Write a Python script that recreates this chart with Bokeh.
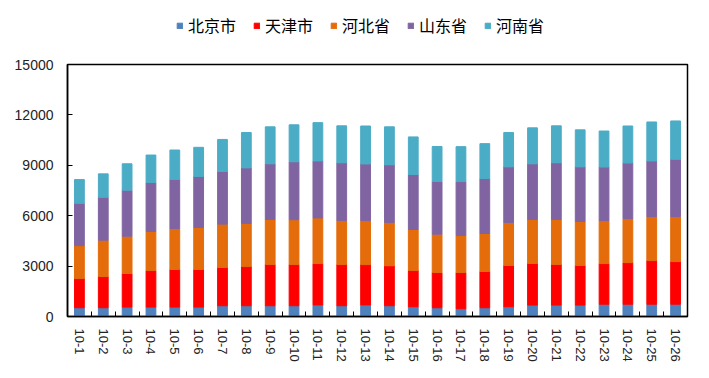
from bokeh.plotting import figure
from bokeh.layouts import column
from bokeh.models import ColumnDataSource, FixedTicker, Range1d, Legend, LegendItem
from bokeh.embed import file_html
from bokeh.resources import INLINE

dates = ["10-1", "10-2", "10-3", "10-4", "10-5", "10-6", "10-7", "10-8", "10-9",
         "10-10", "10-11", "10-12", "10-13", "10-14", "10-15", "10-16", "10-17",
         "10-18", "10-19", "10-20", "10-21", "10-22", "10-23", "10-24", "10-25", "10-26"]
provinces = ["北京市", "天津市", "河北省", "山东省", "河南省"]
beijing = [520, 520, 560, 560, 560, 560, 640, 640, 640, 640, 690, 640, 690,
           640, 580, 520, 460, 520, 580, 680, 680, 680, 730, 730, 730, 730]
tianjin = [1740, 1860, 2000, 2180, 2240, 2240, 2280, 2340, 2460, 2460, 2460, 2460, 2400,
           2380, 2160, 2100, 2160, 2160, 2460, 2480, 2420, 2360, 2420, 2480, 2600, 2540]
hebei = [1960, 2160, 2220, 2320, 2440, 2500, 2580, 2560, 2680, 2660, 2720, 2620, 2620,
         2580, 2440, 2280, 2200, 2260, 2560, 2620, 2680, 2620, 2560, 2620, 2620, 2680]
shandong = [2520, 2560, 2740, 2920, 2920, 3040, 3130, 3310, 3310, 3450, 3390, 3430, 3370,
            3430, 3270, 3140, 3210, 3270, 3310, 3310, 3370, 3250, 3190, 3310, 3310, 3410]
henan = [1410, 1390, 1570, 1630, 1750, 1730, 1910, 2100, 2200, 2200, 2280, 2200, 2260,
         2260, 2240, 2080, 2080, 2080, 2040, 2140, 2200, 2200, 2140, 2200, 2320, 2280]
y_ticks = [0, 3000, 6000, 9000, 12000, 15000]
colors = ["#4F81BD", "#FF0000", "#E46C0A", "#8064A2", "#4BACC6"]

keys = ["bj", "tj", "hb", "sd", "hn"]
xs = list(range(len(dates)))
src = ColumnDataSource(dict(x=xs, bj=beijing, tj=tianjin, hb=hebei, sd=shandong, hn=henan))

W = 709
LEG_H = 48

# ---- legend strip (its own view is far from the data, so only the legend shows) ----
lg = figure(width=W, height=LEG_H, output_backend="svg", toolbar_location=None,
            x_axis_type=None, y_axis_type=None,
            x_range=Range1d(1000, 1001), y_range=Range1d(100000, 200000),
            min_border_left=0, min_border_right=0, min_border_top=0, min_border_bottom=0)
lg.outline_line_color = None
lg.grid.visible = False
lg.border_fill_color = "white"
lg_rs = lg.vbar_stack(keys, x="x", width=0.41, color=colors, source=src)
legend = Legend(items=[LegendItem(label=n, renderers=[r]) for n, r in zip(provinces, lg_rs)],
                orientation="horizontal", location=(109, 11))
legend.padding = 0
legend.margin = 0
legend.spacing = 17
legend.label_standoff = 5
legend.glyph_width = 7
legend.glyph_height = 7
legend.label_height = 16
legend.label_width = 20
legend.border_line_color = None
legend.background_fill_alpha = 0
legend.label_text_font = "Noto Sans CJK SC"
legend.label_text_font_size = "16px"
legend.label_text_color = "black"
lg.add_layout(legend, "center")

# ---- main chart ----
p = figure(width=W, height=378 - LEG_H, output_backend="svg", toolbar_location=None,
           x_range=Range1d(-0.5, len(dates) - 0.5), y_range=Range1d(0, 15000),
           min_border_left=67, min_border_right=22, min_border_top=16, min_border_bottom=62)
p.background_fill_color = "white"
p.border_fill_color = "white"
p.grid.visible = False
p.outline_line_color = "black"
p.outline_line_width = 1.5

p.vbar_stack(keys, x="x", width=0.41, color=colors, source=src)

xa = p.xaxis[0]
xa.ticker = FixedTicker(ticks=xs, minor_ticks=[i - 0.5 for i in range(len(dates) + 1)])
xa.major_label_overrides = {i: d for i, d in enumerate(dates)}
xa.major_label_orientation = "vertical"
xa.major_tick_in = 0
xa.major_tick_out = 0
xa.minor_tick_in = 5
xa.minor_tick_out = 0
xa.minor_tick_line_color = "black"
xa.axis_line_color = "black"
xa.axis_line_width = 1.5
xa.major_label_standoff = 12
xa.major_label_text_font = "Liberation Sans"
xa.major_label_text_font_size = "13px"
xa.major_label_text_color = "#222222"

ya = p.yaxis[0]
ya.ticker = FixedTicker(ticks=y_ticks, minor_ticks=[])
ya.major_tick_in = 5
ya.major_tick_out = 0
ya.major_tick_line_color = "black"
ya.axis_line_color = "black"
ya.axis_line_width = 1.5
ya.major_label_standoff = 14
ya.major_label_text_font = "Liberation Sans"
ya.major_label_text_font_size = "14px"
ya.major_label_text_color = "#222222"

layout = column(lg, p, spacing=0)
open("out.html", "w").write(file_html(layout, INLINE))
